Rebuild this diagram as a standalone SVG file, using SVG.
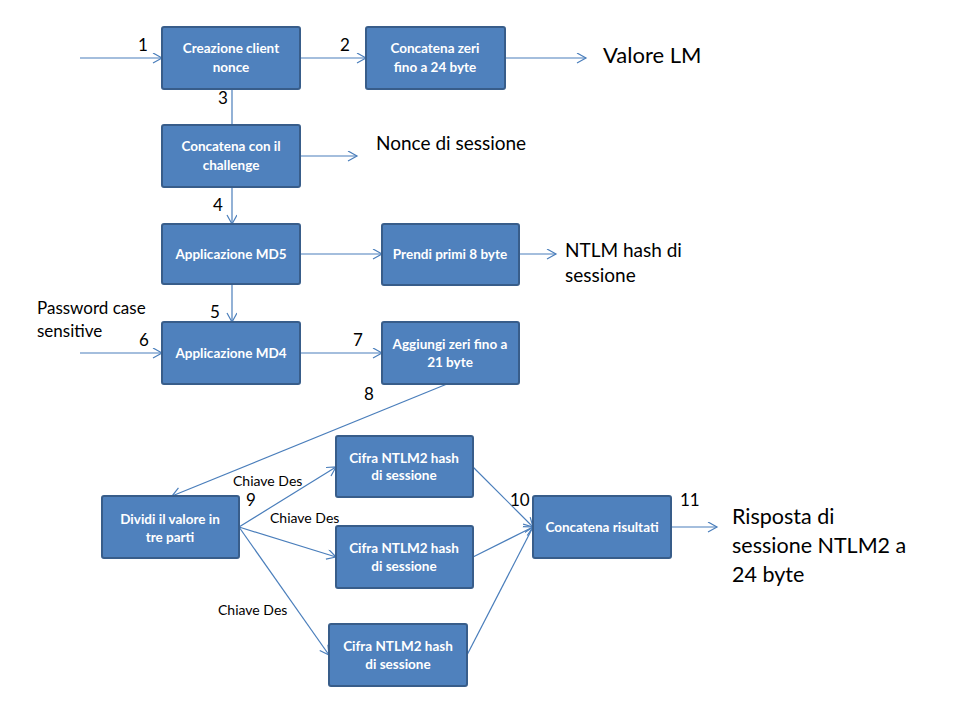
<svg xmlns="http://www.w3.org/2000/svg" width="960" height="720" viewBox="0 0 960 720">
<defs>
<style>
.box{fill:#4F81BD;stroke:#385D8A;stroke-width:2}
.bt{font-family:Lato,"Liberation Sans",sans-serif;font-weight:bold;font-size:13.5px;fill:#fff;text-anchor:middle}
.c{stroke:#4A7EBB;stroke-width:1.2;fill:none}
.a{marker-end:url(#arr)}
.n{font-family:Lato,"Liberation Sans",sans-serif;font-size:17px;fill:#000}
.s{font-family:Lato,"Liberation Sans",sans-serif;font-size:14px;fill:#000}
.o{font-family:Lato,"Liberation Sans",sans-serif;fill:#000}
</style>
<marker id="arr" markerWidth="12" markerHeight="12" refX="10" refY="5" orient="auto" markerUnits="userSpaceOnUse">
<path d="M1,0 L10,5 L1,10" fill="none" stroke="#4A7EBB" stroke-width="1.2"/>
</marker>
</defs>
<rect width="960" height="720" fill="#fff"/>

<g id="connectors">
<line class="c a" x1="80" y1="58" x2="162" y2="58"/>
<line class="c a" x1="300" y1="58" x2="366" y2="58"/>
<line class="c a" x1="505" y1="58" x2="586" y2="58"/>
<line class="c" x1="232" y1="89" x2="232" y2="125"/>
<line class="c a" x1="300" y1="156" x2="357" y2="156"/>
<line class="c a" x1="232" y1="187" x2="232" y2="224"/>
<line class="c a" x1="300" y1="254" x2="382" y2="254"/>
<line class="c a" x1="519" y1="254" x2="556" y2="254"/>
<line class="c a" x1="232" y1="284" x2="232" y2="322"/>
<line class="c a" x1="80" y1="353" x2="162" y2="353"/>
<line class="c a" x1="300" y1="353" x2="382" y2="353"/>
<line class="c a" x1="447" y1="384" x2="172" y2="496"/>
<line class="c a" x1="239" y1="527" x2="336" y2="467"/>
<line class="c a" x1="239" y1="527" x2="336" y2="557"/>
<line class="c a" x1="239" y1="527" x2="329" y2="655"/>
<line class="c a" x1="473" y1="467" x2="533" y2="527"/>
<line class="c a" x1="473" y1="557" x2="533" y2="527"/>
<line class="c a" x1="467" y1="655" x2="533" y2="527"/>
<line class="c a" x1="671" y1="527" x2="717" y2="527"/>
</g>

<g id="labels">
<text class="n" x="138" y="51">1</text>
<text class="n" x="340" y="51">2</text>
<text class="n" x="218" y="104">3</text>
<text class="n" x="213" y="211">4</text>
<text class="n" x="210" y="318">5</text>
<text class="n" x="139" y="346">6</text>
<text class="n" x="353" y="346">7</text>
<text class="n" x="364" y="400">8</text>
<text class="n" x="246" y="506">9</text>
<text class="n" x="510" y="506">10</text>
<text class="n" x="680" y="506">11</text>
<text class="s" x="233" y="486">Chiave Des</text>
<text class="s" x="270" y="523">Chiave Des</text>
<text class="s" x="218" y="615">Chiave Des</text>
<text class="o" x="603" y="63" font-size="22">Valore LM</text>
<text class="o" x="376" y="150" font-size="19">Nonce di sessione</text>
<text class="o" x="565" y="257" font-size="19">NTLM hash di</text>
<text class="o" x="565" y="282" font-size="19">sessione</text>
<text class="o" x="37" y="314" font-size="17">Password case</text>
<text class="o" x="37" y="337" font-size="17">sensitive</text>
<text class="o" x="732" y="524" font-size="21.5">Risposta di</text>
<text class="o" x="732" y="553" font-size="21.5">sessione NTLM2 a</text>
<text class="o" x="732" y="582" font-size="21.5">24 byte</text>
</g>

<g id="n1"><rect class="box" x="162" y="27" width="138" height="62" rx="2"/><text class="bt" x="231" y="53">Creazione client</text><text class="bt" x="231" y="72">nonce</text></g>
<g id="n2"><rect class="box" x="366" y="27" width="139" height="62" rx="2"/><text class="bt" x="435" y="53">Concatena zeri</text><text class="bt" x="435" y="72">fino a 24 byte</text></g>
<g id="n3"><rect class="box" x="162" y="125" width="138" height="62" rx="2"/><text class="bt" x="231" y="151">Concatena con il</text><text class="bt" x="231" y="170">challenge</text></g>
<g id="n4"><rect class="box" x="162" y="224" width="138" height="60" rx="2"/><text class="bt" x="231" y="259">Applicazione MD5</text></g>
<g id="n5"><rect class="box" x="162" y="322" width="138" height="62" rx="2"/><text class="bt" x="231" y="358">Applicazione MD4</text></g>
<g id="n6"><rect class="box" x="382" y="224" width="137" height="61" rx="2"/><text class="bt" x="450" y="259">Prendi primi 8 byte</text></g>
<g id="n7"><rect class="box" x="382" y="322" width="137" height="62" rx="2"/><text class="bt" x="450" y="349">Aggiungi zeri fino a</text><text class="bt" x="450" y="367">21 byte</text></g>
<g id="n8"><rect class="box" x="102" y="496" width="137" height="62" rx="2"/><text class="bt" x="170" y="524">Dividi il valore in</text><text class="bt" x="170" y="542">tre parti</text></g>
<g id="n9a"><rect class="box" x="336" y="436" width="137" height="61" rx="2"/><text class="bt" x="404" y="463">Cifra NTLM2 hash</text><text class="bt" x="404" y="480">di sessione</text></g>
<g id="n9b"><rect class="box" x="336" y="526" width="137" height="62" rx="2"/><text class="bt" x="404" y="553">Cifra NTLM2 hash</text><text class="bt" x="404" y="571">di sessione</text></g>
<g id="n9c"><rect class="box" x="329" y="624" width="138" height="62" rx="2"/><text class="bt" x="398" y="651">Cifra NTLM2 hash</text><text class="bt" x="398" y="669">di sessione</text></g>
<g id="n10"><rect class="box" x="533" y="496" width="138" height="62" rx="2"/><text class="bt" x="602" y="532">Concatena risultati</text></g>
</svg>
